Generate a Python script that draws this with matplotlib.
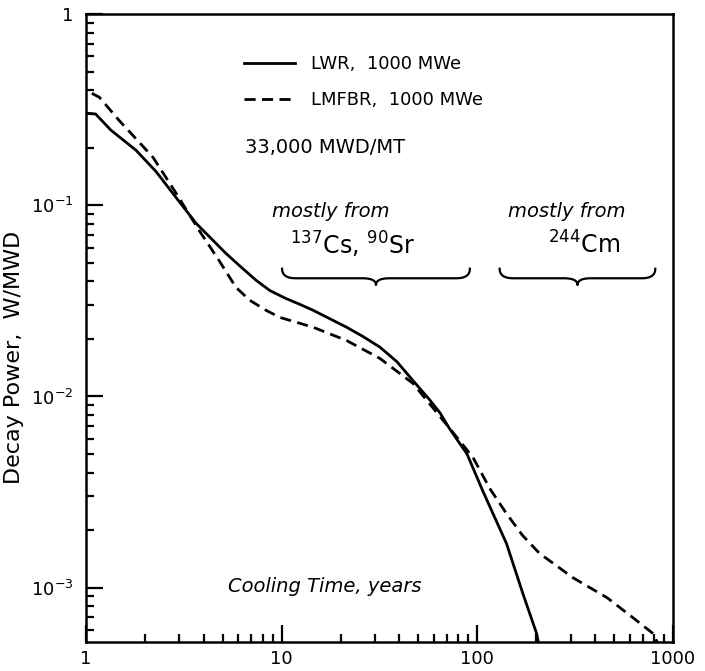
import numpy as np
import matplotlib
matplotlib.use("Agg")
import matplotlib.pyplot as plt
from matplotlib.lines import Line2D
from matplotlib.ticker import FixedLocator, FixedFormatter, LogLocator, NullFormatter

# cooling time (years) and decay power (W/MWD)
lwr_t = [1.0, 1.12, 1.34, 1.8, 2.28, 2.88, 3.65, 5.19, 6.13, 7.4, 8.7, 10.4,
         12.4, 14.5, 21.5, 26.0, 31.8, 38.8, 46.9, 57.1, 64.5, 72.0, 88.6,
         106.7, 141, 171, 201, 205]
lwr_p = [0.303, 0.30, 0.247, 0.194, 0.150, 0.110, 0.0805, 0.056, 0.048, 0.0405,
         0.0358, 0.0327, 0.0303, 0.0282, 0.023, 0.0206, 0.0181, 0.0152, 0.0121,
         0.0096, 0.0082, 0.0068, 0.0050, 0.0032, 0.0017, 0.00093, 0.000575,
         0.00052]

lmfbr_t = [1.07, 1.17, 1.47, 2.2, 2.88, 3.78, 4.78, 5.84, 6.88, 8.33, 9.8, 14.5,
           21.5, 31.8, 46.9, 72.3, 95, 116, 141, 170, 208, 252, 307, 460, 624,
           792, 830]
lmfbr_p = [0.385, 0.367, 0.279, 0.178, 0.116, 0.074, 0.0515, 0.0372, 0.0318,
           0.0282, 0.0259, 0.023, 0.0196, 0.0158, 0.0117, 0.0068, 0.0048,
           0.00329, 0.00244, 0.00188, 0.00151, 0.00131, 0.00113, 0.000887,
           0.000697, 0.000575, 0.00052]

x_ticks = [1, 10, 100, 1000]
x_labels = ['1', '10', '100', '1000']
y_ticks = [1e-3, 1e-2, 1e-1, 1]
y_labels = ['10$^{-3}$', '10$^{-2}$', '10$^{-1}$', '1']

# time ranges covered by the two "mostly from" braces
brace_spans = [(10.05, 91.6), (130, 812)]
brace_level = 0.0415


def brace(ax, xa, xb, yv, h=0.05, r=0.07):
    # curly brace drawn in log space, ends up, point down
    lxa, lxb, ly = np.log10(xa), np.log10(xb), np.log10(yv)
    mid = (lxa + lxb) / 2
    s = np.linspace(0, 1, 20)[:, None]

    def q(p0, p1, p2):
        p0, p1, p2 = map(np.array, (p0, p1, p2))
        return (1 - s) ** 2 * p0 + 2 * (1 - s) * s * p1 + s ** 2 * p2

    pts = np.vstack([
        q((lxa, ly + h), (lxa, ly), (lxa + r, ly)),
        q((mid - r, ly), (mid, ly), (mid, ly - 0.7 * h)),
        q((mid, ly - 0.7 * h), (mid, ly), (mid + r, ly)),
        q((lxb - r, ly), (lxb, ly), (lxb, ly + h)),
    ])
    ax.plot(10 ** pts[:, 0], 10 ** pts[:, 1], color='black', lw=1.6)


fig = plt.figure(figsize=(7.05, 6.71), dpi=100)
ax = fig.add_axes([86 / 705, 29 / 671, 587 / 705, 628 / 671])

ax.plot(lwr_t, lwr_p, color='black', lw=2.0, solid_joinstyle='round')
ax.plot(lmfbr_t, lmfbr_p, color='black', lw=2.0, dashes=(4, 2.3))

ax.set_xscale('log')
ax.set_yscale('log')
ax.set_xlim(1, 1000)
ax.set_ylim(5.2e-4, 1)

ax.xaxis.set_major_locator(FixedLocator(x_ticks))
ax.xaxis.set_major_formatter(FixedFormatter(x_labels))
ax.yaxis.set_major_locator(FixedLocator(y_ticks))
ax.yaxis.set_major_formatter(FixedFormatter(y_labels))
ax.xaxis.set_minor_locator(LogLocator(base=10, subs=np.arange(2, 10)))
ax.yaxis.set_minor_locator(LogLocator(base=10, subs=np.arange(2, 10)))
ax.xaxis.set_minor_formatter(NullFormatter())
ax.yaxis.set_minor_formatter(NullFormatter())

ax.tick_params(which='both', direction='in', top=False, right=False, width=1.6,
               labelsize=13)
ax.tick_params(which='major', length=12)
ax.tick_params(which='minor', length=6)
ax.tick_params(axis='y', pad=9)
ax.tick_params(axis='x', pad=6)
for sp in ax.spines.values():
    sp.set_linewidth(1.8)

ax.set_ylabel('Decay Power,  W/MWD', fontsize=16)
ax.yaxis.set_label_coords(-0.105, 0.454)

handles = [Line2D([], [], color='black', lw=2.0),
           Line2D([], [], color='black', lw=2.0, dashes=(4, 2.3))]
ax.legend(handles, ['LWR,  1000 MWe', 'LMFBR,  1000 MWe'], frameon=False,
          loc='upper left', bbox_to_anchor=(0.27, 0.935), borderaxespad=0,
          borderpad=0, handlelength=2.8, handletextpad=0.9, labelspacing=1.0,
          fontsize=13)

ax.text(0.271, 0.787, '33,000 MWD/MT', transform=ax.transAxes, fontsize=14,
        va='center')
ax.text(0.317, 0.685, 'mostly from', transform=ax.transAxes, fontsize=14,
        va='center', style='italic')
ax.text(0.719, 0.685, 'mostly from', transform=ax.transAxes, fontsize=14,
        va='center', style='italic')
ax.text(0.347, 0.632, '$^{137}$Cs, $^{90}$Sr', transform=ax.transAxes,
        fontsize=17, va='center')
ax.text(0.787, 0.632, '$^{244}$Cm', transform=ax.transAxes, fontsize=17,
        va='center')
ax.text(0.242, 0.088, 'Cooling Time, years', transform=ax.transAxes,
        fontsize=14, va='center', style='italic')

for xa, xb in brace_spans:
    brace(ax, xa, xb, brace_level)

fig.savefig('out.png', dpi=100)
